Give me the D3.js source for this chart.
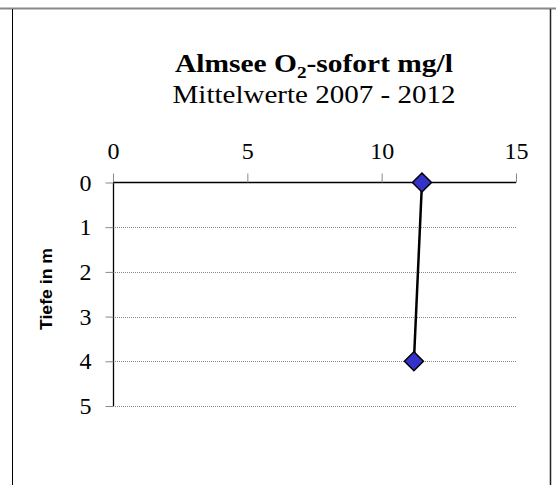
<!DOCTYPE html>
<html>
<head>
<meta charset="utf-8">
<script src="https://cdn.jsdelivr.net/npm/d3@7"></script>
<style>
	body { margin: 0; background: #fff; }
	svg { display: block; }
</style>
</head>
<body>
<svg id="chart"></svg>
<script>
// Almsee O2 immediately measured, mean 2007 - 2012
const depths = [0, 4]
const o2Values = [11.5, 11.2]
const xTicks = [0, 5, 10, 15]
const yTicks = [0, 1, 2, 3, 4, 5]

const width = 556
const height = 485
const serif = '"Liberation Serif", "Times New Roman", serif'

const svg = d3.select('#chart')
	.attr('width', width)
	.attr('height', height)

// frame
svg.append('line')
	.attr('x1', 0).attr('x2', width)
	.attr('y1', 8.5).attr('y2', 8.5)
	.style('stroke', '#888')
	.style('stroke-width', 2)
svg.append('line')
	.attr('x1', 12.5).attr('x2', 12.5)
	.attr('y1', 9).attr('y2', height)
	.style('stroke', '#000')
svg.append('line')
	.attr('x1', 550.5).attr('x2', 550.5)
	.attr('y1', 9).attr('y2', height)
	.style('stroke', '#222')
	.style('stroke-width', 1.5)

let x = d3.scaleLinear().domain([0, 15]).range([113, 516])
let y = d3.scaleLinear().domain([0, 5]).range([182.5, 406])

// titles
let title = svg.append('text')
	.attr('x', 314).attr('y', 72)
	.attr('text-anchor', 'middle')
	.attr('textLength', 278)
	.attr('lengthAdjust', 'spacingAndGlyphs')
	.style('font-family', serif)
	.style('font-weight', 'bold')
	.style('font-size', '26px')
title.append('tspan').text('Almsee O')
title.append('tspan').text('2').attr('dy', 6).style('font-size', '17px')
title.append('tspan').text('-sofort mg/l').attr('dy', -6)

svg.append('text')
	.attr('x', 314).attr('y', 103)
	.attr('text-anchor', 'middle')
	.attr('textLength', 283)
	.attr('lengthAdjust', 'spacingAndGlyphs')
	.style('font-family', serif)
	.style('font-size', '25px')
	.text('Mittelwerte 2007 - 2012')

// gridlines
svg.append('g')
	.selectAll('line')
	.data(yTicks.filter(d => d > 0))
	.join('line')
	.attr('x1', x(0)).attr('x2', x(15))
	.attr('y1', d => Math.round(y(d)) + 0.5)
	.attr('y2', d => Math.round(y(d)) + 0.5)
	.style('stroke', '#888')
	.style('stroke-dasharray', '1,1')

// axes
let xAxis = svg.append('g')
	.attr('transform', `translate(0,${y(0)})`)
	.call(d3.axisTop(x).tickValues(xTicks).tickFormat(d3.format('d')).tickSize(9).tickPadding(15))
let yAxis = svg.append('g')
	.attr('transform', `translate(${x(0) + 0.5},0)`)
	.call(d3.axisLeft(y).tickValues(yTicks).tickFormat(d3.format('d')).tickSize(8).tickPadding(14))

;[xAxis, yAxis].forEach(a => {
	a.select('.domain').style('stroke', '#000').style('stroke-width', 1.3)
	a.selectAll('.tick line').style('stroke', '#888')
	a.selectAll('.tick text')
		.style('font-family', serif)
		.style('font-size', '24px')
		.style('fill', '#000')
})
xAxis.select('.domain').attr('d', `M${x(0)},0H${x(15)}`)
yAxis.select('.domain').attr('d', `M0,${y(0)}V${y(5)}`)

svg.append('text')
	.attr('transform', `translate(52,289) rotate(-90)`)
	.attr('text-anchor', 'middle')
	.attr('textLength', 82)
	.attr('lengthAdjust', 'spacingAndGlyphs')
	.style('font-family', '"Liberation Sans", Arial, sans-serif')
	.style('font-weight', 'bold')
	.style('font-size', '17px')
	.text('Tiefe in m')

// data line and markers
let points = depths.map((d, i) => [o2Values[i], d])

svg.append('path')
	.datum(points)
	.attr('d', d3.line().x(d => x(d[0])).y(d => y(d[1])))
	.style('fill', 'none')
	.style('stroke', '#000')
	.style('stroke-width', 2.5)

svg.append('g')
	.selectAll('path')
	.data(points)
	.join('path')
	.attr('transform', d => `translate(${x(d[0])},${y(d[1])})`)
	.attr('d', 'M0,-9.5L9.5,0L0,9.5L-9.5,0Z')
	.style('fill', '#3333CC')
	.style('stroke', '#000')
	.style('stroke-width', 1.5)
</script>
</body>
</html>
